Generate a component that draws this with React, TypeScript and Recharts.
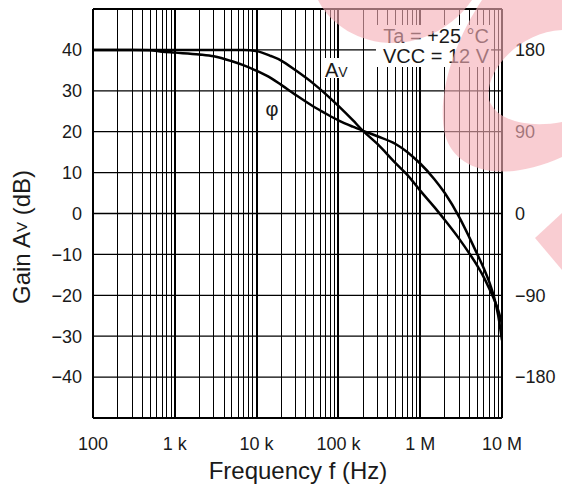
import React from "react";
import {
  LineChart,
  Line,
  XAxis,
  YAxis,
  ReferenceLine,
  ReferenceArea,
  Label,
} from "recharts";

// frequency (Hz) and the two curves
const FREQ = [
  100, 300, 500, 700, 1e3, 2e3, 3e3, 5e3, 7e3, 1e4, 1.5e4, 2e4, 3e4, 5e4, 7e4,
  1e5, 1.5e5, 2e5, 3e5, 5e5, 7e5, 1e6, 1.5e6, 2e6, 3e6, 4e6, 5e6, 6e6, 7e6,
  8e6, 9e6, 1e7,
];
const GAIN_DB = [
  40, 40, 40, 40, 40, 40, 40, 40, 40, 39.7, 38.5, 37.4, 35.0, 31.7, 29.2, 26.3,
  22.8, 20.2, 17.0, 12.3, 9.4, 5.6, 1.5, -1.6, -6.2, -9.8, -12.8, -15.6, -18.4,
  -21.0, -23.7, -27,
];
const PHASE_DEG = [
  180, 180, 179.5, 178, 177, 175, 173, 167.5, 163, 157, 149, 141.5, 130.5,
  117.5, 110, 102.5, 95.5, 91, 85, 76.5, 67.5, 55, 37.5, 22.5, -4, -26.5, -45,
  -60.5, -75.5, -92, -112.5, -139.5,
];

const X_TICKS = [100, 1e3, 1e4, 1e5, 1e6, 1e7];
const X_TICK_LABELS = ["100", "1 k", "10 k", "100 k", "1 M", "10 M"];
const GAIN_TICKS = [-40, -30, -20, -10, 0, 10, 20, 30, 40];
const PHASE_TICKS = [-180, -90, 0, 90, 180];
const GAIN_GRID = [-40, -30, -20, -10, 0, 10, 20, 30, 40];
const DECADES = [100, 1e3, 1e4, 1e5, 1e6];

// white boxes behind the annotations (data coords)
const COND_BOX = { x1: 2.88e5, x2: 7.35e6, y1: 35.7, y2: 46.2 };
const AV_BOX = { x1: 6.3e4, x2: 1.466e5, y1: 33.25, y2: 38.1 };
const BOXES = [COND_BOX, AV_BOX];

const data = FREQ.map((f, i) => ({ f, gain: GAIN_DB[i], phase: PHASE_DEG[i] }));

const vLines: { f: number; major: boolean }[] = [];
DECADES.forEach((d) => {
  for (let k = 1; k < 10; k++) vLines.push({ f: d * k, major: k === 1 });
});
vLines.push({ f: 1e7, major: true });

// split a [lo, hi] span around the boxes that cover it
function gaps(lo: number, hi: number, cuts: [number, number][]) {
  const out: [number, number][] = [];
  let start = lo;
  cuts
    .sort((a, b) => a[0] - b[0])
    .forEach(([a, b]) => {
      if (a > start) out.push([start, a]);
      start = Math.max(start, b);
    });
  if (start < hi) out.push([start, hi]);
  return out;
}

const FONT = "'Liberation Sans', Arial, Helvetica, sans-serif";
const INK = "#1a1a1a";
const minus = (v: number) => String(v).replace("-", "\u2212");

const tickStyle = { fontSize: 18, fill: INK, fontFamily: FONT };

export default function App() {
  const vSegs: { f: number; w: number; a: number; b: number }[] = [];
  vLines.forEach((v) => {
    const cuts = BOXES.filter((bx) => v.f > bx.x1 && v.f < bx.x2).map(
      (bx) => [bx.y1, bx.y2] as [number, number]
    );
    gaps(-50, 50, cuts).forEach(([a, b]) =>
      vSegs.push({ f: v.f, w: v.major ? 2 : 1, a, b })
    );
  });
  const hSegs: { g: number; a: number; b: number }[] = [];
  GAIN_GRID.forEach((g) => {
    const cuts = BOXES.filter((bx) => g > bx.y1 && g < bx.y2).map(
      (bx) => [bx.x1, bx.x2] as [number, number]
    );
    gaps(100, 1e7, cuts).forEach(([a, b]) => hSegs.push({ g, a, b }));
  });

  return (
    <div style={{ position: "absolute", left: 0, top: 0, width: 562, height: 491, background: "#fff" }}>
      <LineChart
        width={562}
        height={491}
        data={data}
        margin={{ top: 9, right: 0, bottom: 0, left: 0 }}
      >
        <XAxis
          dataKey="f"
          type="number"
          scale="log"
          domain={[100, 1e7]}
          ticks={X_TICKS}
          tickFormatter={(v: number) => X_TICK_LABELS[X_TICKS.indexOf(v)] ?? ""}
          tick={tickStyle}
          tickLine={false}
          axisLine={false}
          tickMargin={13}
          height={73}
          allowDataOverflow
        >
          <Label
            content={() => (
              <text x={298} y={479} textAnchor="middle" fontSize={24} fill={INK} fontFamily={FONT}>
                Frequency f (Hz)
              </text>
            )}
          />
        </XAxis>
        <YAxis
          yAxisId="gain"
          type="number"
          domain={[-50, 50]}
          ticks={GAIN_TICKS}
          tickFormatter={minus}
          tick={tickStyle}
          tickLine={false}
          axisLine={false}
          tickMargin={5}
          width={93}
          allowDataOverflow
        >
          <Label
            content={() => (
              <text
                x={21}
                y={237}
                transform="rotate(-90 21 237)"
                textAnchor="middle"
                dominantBaseline="central"
                fontSize={24}
                fill={INK}
                fontFamily={FONT}
              >
                Gain A<tspan fontSize={15}>V</tspan> (dB)
              </text>
            )}
          />
        </YAxis>
        <YAxis
          yAxisId="phase"
          orientation="right"
          type="number"
          domain={[-225, 225]}
          ticks={PHASE_TICKS}
          tickFormatter={minus}
          tick={{ ...tickStyle, textAnchor: "start" }}
          tickLine={false}
          axisLine={false}
          tickMargin={7}
          width={60}
          allowDataOverflow
        />

        {hSegs.map((s, i) => (
          <ReferenceLine
            key={`h${i}`}
            yAxisId="gain"
            segment={[{ x: s.a, y: s.g }, { x: s.b, y: s.g }]}
            stroke="#000"
            strokeWidth={1.3}
          />
        ))}
        {vSegs.map((s, i) => (
          <ReferenceLine
            key={`v${i}`}
            yAxisId="gain"
            segment={[{ x: s.f, y: s.a }, { x: s.f, y: s.b }]}
            stroke="#000"
            strokeWidth={s.w}
            shapeRendering="crispEdges"
          />
        ))}
        <ReferenceLine yAxisId="gain" y={50} stroke="#000" strokeWidth={2} shapeRendering="crispEdges" />
        <ReferenceLine yAxisId="gain" y={-50} stroke="#000" strokeWidth={2} shapeRendering="crispEdges" />

        {/* condition box */}
        <ReferenceArea
          yAxisId="gain"
          {...COND_BOX}
          fill="#fff"
          fillOpacity={0}
          stroke="none"
          label={{
            content: (p: any) => {
              const vb = p.viewBox || {};
              const rx = vb.x + vb.width - 2;
              return (
                <g fontFamily={FONT} fontSize={20} fill={INK} textAnchor="end">
                  <text x={rx} y={vb.y + 18}>Ta = +25 °C</text>
                  <text x={rx} y={vb.y + 38}>VCC = 12 V</text>
                </g>
              );
            },
          }}
        />
        {/* Av label */}
        <ReferenceArea
          yAxisId="gain"
          {...AV_BOX}
          fill="#fff"
          fillOpacity={0}
          stroke="none"
          label={{
            content: (p: any) => {
              const vb = p.viewBox || {};
              return (
                <text x={vb.x + 3} y={vb.y + 19} fontFamily={FONT} fontSize={20} fill={INK}>
                  A<tspan fontSize={14}>V</tspan>
                </text>
              );
            },
          }}
        />
        {/* phase label */}
        <ReferenceArea
          yAxisId="gain"
          x1={1.4e4}
          x2={1.7e4}
          y1={24}
          y2={27}
          fillOpacity={0}
          stroke="none"
          label={{
            content: (p: any) => {
              const vb = p.viewBox || {};
              return (
                <text
                  x={vb.x + vb.width / 2}
                  y={vb.y + vb.height / 2}
                  textAnchor="middle"
                  dominantBaseline="central"
                  fontFamily={FONT}
                  fontSize={20}
                  fill={INK}
                >
                  φ
                </text>
              );
            },
          }}
        />

        <Line
          yAxisId="gain"
          dataKey="gain"
          type="monotone"
          stroke="#000"
          strokeWidth={2.5}
          dot={false}
          isAnimationActive={false}
        />
        <Line
          yAxisId="phase"
          dataKey="phase"
          type="monotone"
          stroke="#000"
          strokeWidth={2.5}
          dot={false}
          isAnimationActive={false}
        />
      </LineChart>
      <svg
        width={562}
        height={491}
        style={{ position: "absolute", left: 0, top: 0, pointerEvents: "none" }}
      >
        <g fill="rgb(245,174,182)" fillOpacity={0.62}>
          <path d="M318 0 C330 25 360 43 392 43 C425 43 455 25 472 0 Z" />
          <path d="M482 0 C455 40 436 95 445 135 C455 170 500 185 562 157 L562 122 C530 128 497 122 489 100 C484 70 520 32 562 30 L562 0 Z" />
          <path d="M562 213 L535 238 L562 270 Z" />
        </g>
      </svg>
    </div>
  );
}
